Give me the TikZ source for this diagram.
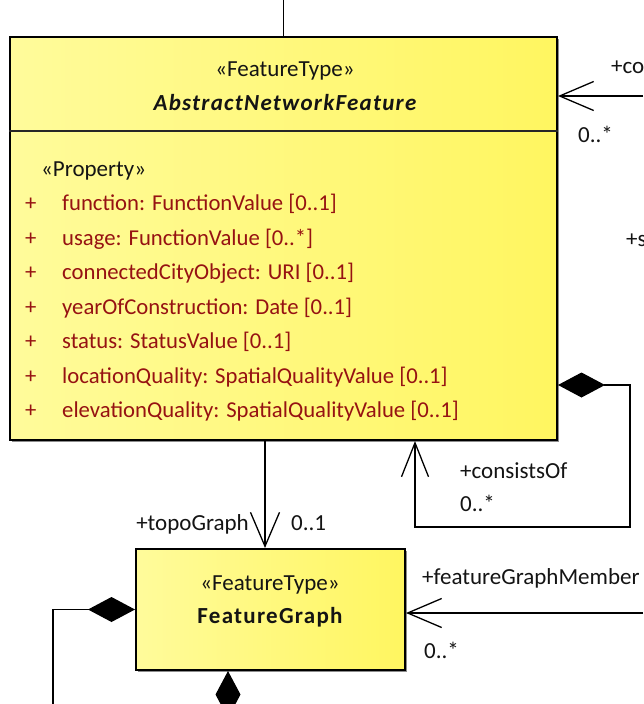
\documentclass[tikz,border=0pt]{standalone}
\usepackage{fontspec}
\setmainfont{Carlito}
\newfontfamily\titlefont[LetterSpace=5.5]{Carlito}
\usetikzlibrary{arrows.meta,shadows}
\definecolor{ylight}{RGB}{255,251,155}
\definecolor{ydark}{RGB}{255,246,96}
\definecolor{attr}{RGB}{150,18,18}
\definecolor{ink}{RGB}{20,20,20}
\begin{document}
\begin{tikzpicture}[x=1pt,y=-1pt,
  cls/.style={rectangle, draw=black, line width=2pt, left color=ylight, right color=ydark,
    inner sep=0pt, drop shadow={shadow xshift=1.6pt, shadow yshift=-1.6pt, fill=black!45, opacity=1}},
  txt/.style={inner sep=0pt, text height=15pt, text depth=5pt, font=\fontsize{23}{27}\selectfont, text=ink},
  atxt/.style={txt, anchor=west, text=attr, font=\fontsize{22.7}{27}\selectfont},
  ttl/.style={txt, font=\titlefont\fontsize{23}{27}\selectfont\bfseries},
  conn/.style={draw=black, line width=1.3pt},
  openv/.style={-{Straight Barb[length=34pt,width=29pt,line width=1.3pt]}},
  aggr/.style={{Diamond[length=47pt,width=25pt,fill=black]}-},
  aggrv/.style={{Diamond[length=47pt,width=25pt,fill=black]}-{Straight Barb[length=34pt,width=27pt,line width=1.3pt]}}
]
\useasboundingbox (0,0) rectangle (643,704);
\clip (0,0) rectangle (643,704);
\fill[white] (0,0) rectangle (643,704);

% classes
\node[cls, minimum width=547pt, minimum height=403pt] (anf) at (283.5,238.5) {};
\draw[line width=2pt, black!85] (anf.west |- 0,131) coordinate (divL) -- (anf.east |- 0,131) coordinate (divR);
\node[txt] (anfst) at (285,71) {«FeatureType»};
\node[ttl] (anfnm) at (285,105) {\itshape AbstractNetworkFeature};
\node[txt, anchor=west] (prop) at (41,171) {«Property»};
\foreach \y/\t [count=\i] in {205/{function: FunctionValue [0..1]},
  240/{usage: FunctionValue [0..*]},
  274/{connectedCityObject: URI [0..1]},
  309/{yearOfConstruction: Date [0..1]},
  343/{status: StatusValue [0..1]},
  378/{locationQuality: SpatialQualityValue [0..1]},
  412/{elevationQuality: SpatialQualityValue [0..1]}}{
  \node[atxt] (plus\i) at (25,\y) {+};
  \node[atxt] (att\i) at (62,\y) {\t};
}

\node[cls, minimum width=269pt, minimum height=121pt] (fg) at (270.5,609.5) {};
\node[txt] (fgst) at (270,585) {«FeatureType»};
\node[ttl] (fgnm) at (270,618) {FeatureGraph};

% free ends and corners
\coordinate (topend) at (283.5,0);
\coordinate (rin) at (643,96);
\coordinate (agA) at (557,385);
\coordinate (agB) at (630,385);
\coordinate (agC) at (630,527);
\coordinate (agD) at (415,527);
\coordinate (tgx) at (265,0);
\coordinate (fgmin) at (643,613);
\coordinate (lft) at (53,704);
\coordinate (bot) at (228,730);

% connectors
\draw[conn] (topend) -- (anf.north);
\draw[conn, openv] (rin) -- (rin -| anf.east);
\draw[conn, aggrv] (agA -| anf.east) -- (agB) -- (agC) -- (agD) -- (anf.south -| agD);
\draw[conn, openv] (anf.south -| tgx) -- (fg.north -| tgx);
\draw[conn, openv] (fgmin) -- (fgmin -| fg.east);
\draw[conn, aggr] (fg.west) -- (fg.west -| lft) -- (lft);
\draw[conn, aggr] (fg.south -| bot) -- (bot);

% labels
\node[txt, anchor=west] (l1) at (611,68) {+co};
\node[txt, anchor=west] (l2) at (578,137) {0..*};
\node[txt, anchor=west] (l3) at (626,241) {+s};
\node[txt, anchor=west] (l4) at (460,473) {+consistsOf};
\node[txt, anchor=west] (l5) at (460,506) {0..*};
\node[txt, anchor=east] (l6) at (249,525) {+topoGraph};
\node[txt, anchor=west] (l7) at (291,525) {0..1};
\node[txt, anchor=west] (l8) at (422,579) {+featureGraphMember};
\node[txt, anchor=west] (l9) at (424,653) {0..*};
\end{tikzpicture}
\end{document}
